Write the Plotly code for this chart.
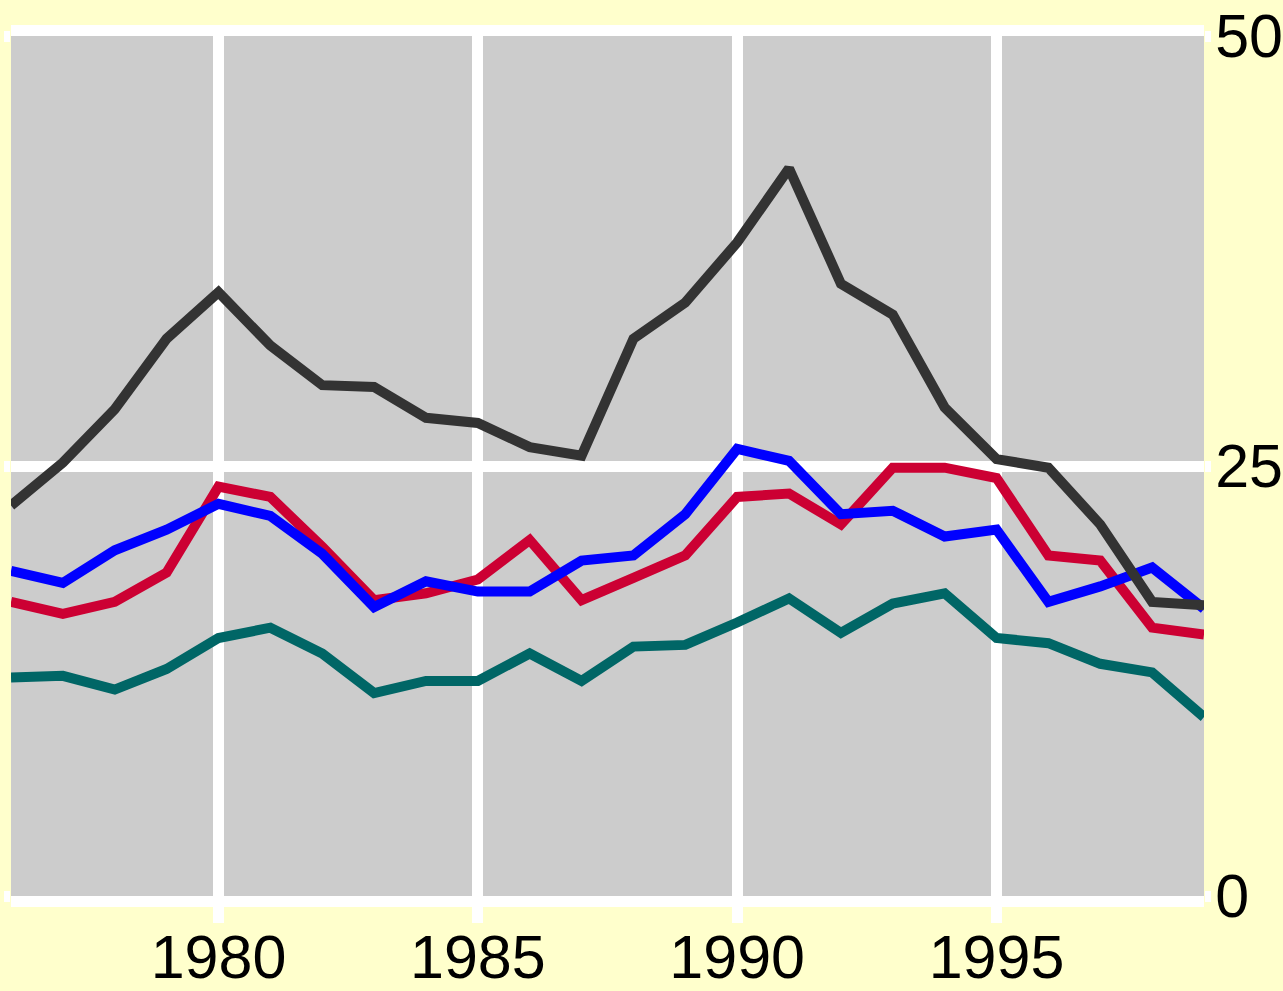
import plotly.graph_objects as go

years = list(range(1976, 2000))

series_dark = [22.7, 25.2, 28.3, 32.4, 35.1, 32.0, 29.7, 29.6, 27.8, 27.5, 26.1, 25.6,
               32.4, 34.5, 38.0, 42.3, 35.6, 33.8, 28.4, 25.4, 24.9, 21.6, 17.1, 16.9]
series_blue = [18.9, 18.2, 20.1, 21.3, 22.8, 22.1, 19.9, 16.8, 18.3, 17.7, 17.7, 19.5,
               19.8, 22.2, 26.0, 25.3, 22.2, 22.4, 20.9, 21.3, 17.1, 18.0, 19.1, 16.7]
series_red = [17.1, 16.4, 17.1, 18.8, 23.8, 23.2, 20.3, 17.2, 17.6, 18.4, 20.7, 17.2,
              18.5, 19.8, 23.2, 23.4, 21.6, 24.9, 24.9, 24.3, 19.8, 19.5, 15.6, 15.2]
series_teal = [12.7, 12.8, 12.0, 13.2, 15.0, 15.6, 14.1, 11.8, 12.5, 12.5, 14.1, 12.5,
               14.5, 14.6, 15.9, 17.3, 15.3, 17.0, 17.6, 15.0, 14.7, 13.5, 13.0, 10.4]

x_ticks = [1980, 1985, 1990, 1995]
y_ticks = [0, 25, 50]

colors = {"dark": "#333333", "blue": "#0000FF", "red": "#CC0033", "teal": "#006666"}

fig = go.Figure()
for name, vals in [("teal", series_teal), ("red", series_red), ("blue", series_blue), ("dark", series_dark)]:
    fig.add_trace(go.Scatter(x=years, y=vals, mode="lines",
                             line=dict(color=colors[name], width=10),
                             showlegend=False, hoverinfo="skip"))

font = dict(family="Liberation Sans Narrow, Liberation Sans, sans-serif",
            size=61, color="black")

fig.update_layout(
    width=1283, height=991,
    paper_bgcolor="#FFFFCC", plot_bgcolor="#CCCCCC",
    margin=dict(l=11, r=79, t=36, b=95, pad=0),
    font=font,
    xaxis=dict(range=[1976, 1999], tickmode="array", tickvals=x_ticks,
               ticktext=[str(v) for v in x_ticks],
               showgrid=True, gridcolor="white", gridwidth=11,
               ticks="outside", ticklen=16, tickwidth=11, tickcolor="white",
               showline=True, linecolor="white", linewidth=11, mirror=True,
               zeroline=False, tickfont=font, ticklabelstandoff=-18,
               ticklabeloverflow="allow", automargin=False),
    yaxis=dict(range=[0, 50], tickmode="array", tickvals=y_ticks,
               ticktext=[str(v) for v in y_ticks], side="right",
               showgrid=True, gridcolor="white", gridwidth=11,
               ticks="outside", ticklen=6, tickwidth=11, tickcolor="white",
               mirror="ticks", showline=False, zeroline=False,
               tickfont=font, ticklabelstandoff=-8,
               ticklabeloverflow="allow", automargin=False),
)

fig.write_html("out.html", config={"displayModeBar": False},
               post_script="document.body.style.margin='0';document.body.style.background='#FFFFCC';")
